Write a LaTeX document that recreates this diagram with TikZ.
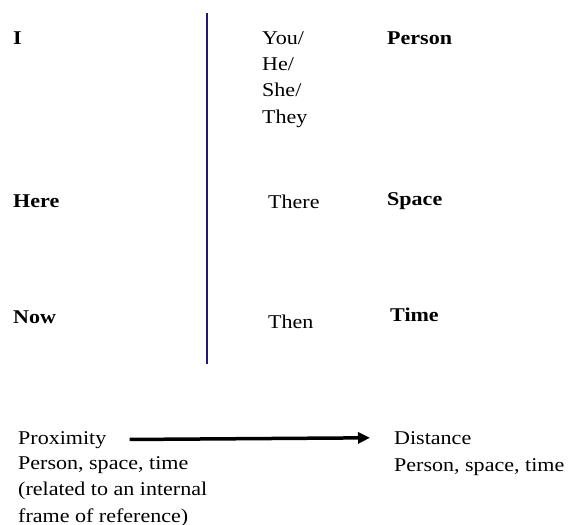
\documentclass[tikz,border=0pt]{standalone}
\usepackage{fontspec}
\setmainfont{Liberation Serif}[FakeStretch=1.13]
\usepackage{xcolor}
\usepackage{tikz}
\usetikzlibrary{arrows.meta,positioning}
\definecolor{dividerblue}{RGB}{36,22,124}

\begin{document}
\begin{tikzpicture}[x=1pt, y=-1pt,
  word/.style={anchor=base west, inner sep=0pt, align=left,
               font=\fontsize{19.5}{26.3}\selectfont},
  key/.style={word, font=\fontsize{19.5}{26.3}\selectfont\bfseries},
  divider/.style={draw=dividerblue, line width=2pt},
  arrow/.style={-{Triangle[length=12pt, width=11pt]}, line width=3.5pt},
]
  \useasboundingbox (0,0) rectangle (568,525);

  % ---- Left column ----
  \node[key] (i)    at (13,44)  {I};
  \node[key] (here) at (13,207) {Here};
  \node[key] (now)  at (13,323) {Now};

  % ---- Divider ----
  \coordinate (divtop) at (207,13);
  \coordinate (divbot) at (207,364);
  \draw[divider] (divtop) -- (divbot);

  % ---- Middle column (base = last line) ----
  \node[word] (you)   at (262,123) {You/\\He/\\She/\\They};
  \node[word] (there) at (268,208) {There};
  \node[word] (then)  at (268,328) {Then};

  % ---- Right column ----
  \node[key] (person) at (387,44)  {Person};
  \node[key] (space)  at (387,205) {Space};
  \node[key] (time)   at (390,321) {Time};

  % ---- Proximity / distance ----
  \node[word] (prox)     at (18,444)  {Proximity};
  \node[word] (proxnote) at (18,522)  {Person, space, time\\(related to an internal\\frame of reference)};
  \node[word] (dist)     at (394,444) {Distance};
  \node[word] (distnote) at (394,471) {Person, space, time};
  \draw[arrow, shorten <=23pt, shorten >=24pt] (prox.east) -- (dist.west);
\end{tikzpicture}
\end{document}
